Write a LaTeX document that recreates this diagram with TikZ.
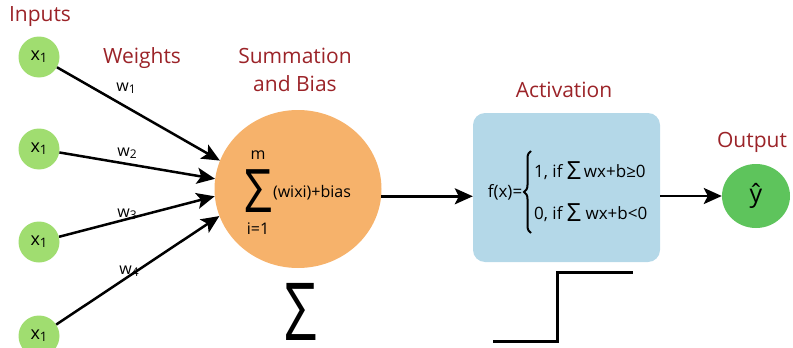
\documentclass[tikz,border=0pt]{standalone}
\usepackage{fontspec}
\setmainfont{Open Sans}
\usetikzlibrary{shapes.geometric,arrows.meta,decorations.pathreplacing}
\definecolor{labelred}{RGB}{155,35,40}
\definecolor{inputgreen}{RGB}{160,221,112}
\definecolor{outgreen}{RGB}{94,196,92}
\definecolor{sumorange}{RGB}{246,178,107}
\definecolor{actblue}{RGB}{180,216,232}
\begin{document}
\begin{tikzpicture}[x=1pt,y=-1pt,
  inp/.style={circle, fill=inputgreen, minimum size=41pt, inner sep=0pt,
    font=\fontsize{18}{18}\selectfont},
  lbl/.style={text=labelred, font=\fontsize{21}{28}\selectfont, align=center},
  wlbl/.style={font=\fontsize{16}{16}\selectfont},
  eq/.style={font=\fontsize{16}{16}\selectfont, inner sep=0pt},
  bigsym/.style={inner sep=0pt, anchor=base},
  wire/.style={line width=2.5pt,
    -{Stealth[length=18pt,width=16pt,inset=4pt]}}]
\useasboundingbox (0,0) rectangle (793,348);

% input neurons
\node[inp] (x1) at (39,57)  {x\raisebox{-2pt}{\fontsize{13}{13}\selectfont 1}};
\node[inp] (x2) at (39,149) {x\raisebox{-2pt}{\fontsize{13}{13}\selectfont 1}};
\node[inp] (x3) at (39,242) {x\raisebox{-2pt}{\fontsize{13}{13}\selectfont 1}};
\node[inp] (x4) at (39,336) {x\raisebox{-2pt}{\fontsize{13}{13}\selectfont 1}};

% summation unit
\node[ellipse, fill=sumorange, minimum width=167pt, minimum height=158pt,
  inner sep=0pt] (sum) at (298,189) {};
\node[bigsym] (sig) at (258,212) {\scalebox{0.82}[1]{\fontsize{60}{60}\selectfont Σ}};
\node[eq] (upper) at (258,155) {m};
\node[eq] (lower) at (258,229) {i=1};
\node[eq] (term) at (312,193) {(wixi)+bias};

% activation block
\node[fill=actblue, rounded corners=12pt, minimum width=187pt,
  minimum height=149pt] (act) at (566.5,187.5) {};
\node[eq, font=\fontsize{17}{17}\selectfont] (fx) at (505,192) {f(x)=};
\draw[line width=2pt, decorate, decoration={brace, amplitude=7pt}]
  (531,233) -- (531,151);
\node[eq, anchor=west, font=\fontsize{17}{17}\selectfont] (case1) at (534,171)
  {1, if \raisebox{-2pt}{\fontsize{25}{25}\selectfont Σ}\,wx+b≥0};
\node[eq, anchor=west, font=\fontsize{17}{17}\selectfont] (case2) at (534,213)
  {0, if \raisebox{-2pt}{\fontsize{25}{25}\selectfont Σ}\ wx+b<0};

% output neuron
\node[ellipse, fill=outgreen, minimum width=68pt, minimum height=64pt,
  inner sep=0pt, font=\fontsize{25}{25}\selectfont] (out) at (756,196) {ŷ};

% captions
\node[lbl] (capin) at (40,17) {Inputs};
\node[lbl] (capw) at (142,58) {Weights};
\node[lbl] (capsum) at (295,70) {Summation\\and Bias};
\node[lbl] (capact) at (564,90) {Activation};
\node[lbl] (capout) at (752,142) {Output};

% weighted connections
\draw[wire] (x1) -- (sum.160);
\draw[wire] (x2) -- (sum.173.5);
\draw[wire] (x3) -- (sum.185.5);
\draw[wire] (x4) -- (sum.199);
\node[wlbl] (w1) at (126,88)  {w\raisebox{-2pt}{\fontsize{12}{12}\selectfont 1}};
\node[wlbl] (w2) at (127,153) {w\raisebox{-2pt}{\fontsize{12}{12}\selectfont 2}};
\node[wlbl] (w3) at (127,214) {w\raisebox{-2pt}{\fontsize{12}{12}\selectfont 3}};
\node[wlbl] (w4) at (129,271) {w\raisebox{-2pt}{\fontsize{12}{12}\selectfont 4}};

% forward connections
\draw[wire] (sum.-5) -- (sum.-5 -| act.west);
\draw[wire] (act.east |- out.west) -- (out.west);

% step function sketch and summation symbol
\draw[line width=3pt] (493,341) -- (557,341) -- (557,272) -- (633,272);
\node[bigsym] (bigsig) at (301,340) {\scalebox{0.72}[1]{\fontsize{80}{80}\selectfont Σ}};
\end{tikzpicture}
\end{document}
